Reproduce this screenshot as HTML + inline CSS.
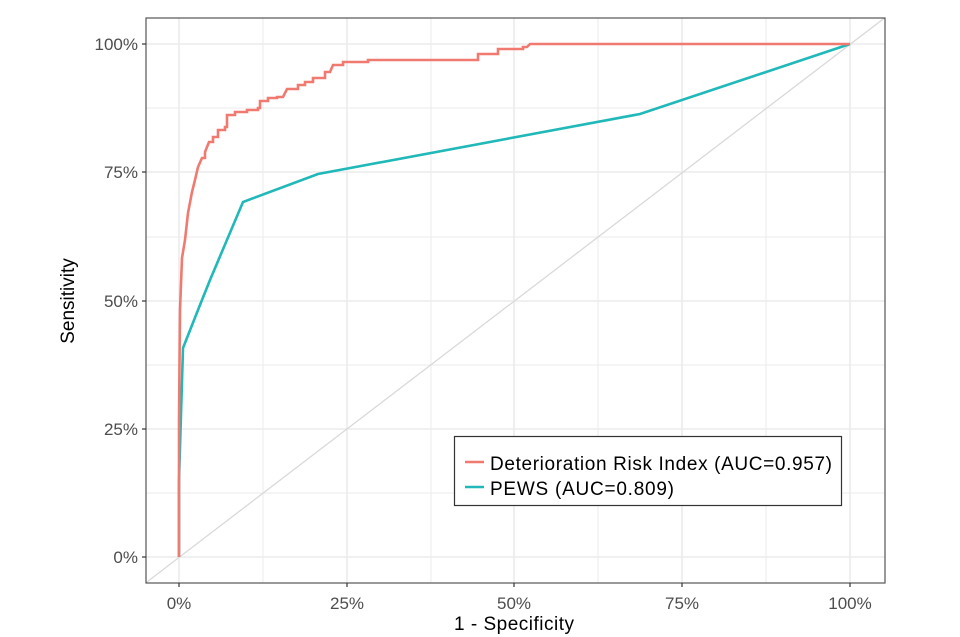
<!DOCTYPE html>
<html><head><style>body{margin:0;background:#fff}svg{display:block}</style></head><body>
<svg width="960" height="637" xmlns="http://www.w3.org/2000/svg" font-family="Liberation Sans, sans-serif">
<defs><clipPath id="c"><rect x="146" y="18" width="739" height="565"/></clipPath></defs>
<g stroke="#ebebeb" stroke-width="1">
<line x1="146" x2="885" y1="493" y2="493"/><line x1="146" x2="885" y1="365" y2="365"/><line x1="146" x2="885" y1="237" y2="237"/><line x1="146" x2="885" y1="108" y2="108"/>
<line y1="18" y2="583" x1="263" x2="263"/><line y1="18" y2="583" x1="431" x2="431"/><line y1="18" y2="583" x1="598" x2="598"/><line y1="18" y2="583" x1="766" x2="766"/>
</g>
<g stroke="#ebebeb" stroke-width="1.6">
<line x1="146" x2="885" y1="557" y2="557"/><line x1="146" x2="885" y1="429" y2="429"/><line x1="146" x2="885" y1="301" y2="301"/><line x1="146" x2="885" y1="172" y2="172"/><line x1="146" x2="885" y1="44" y2="44"/>
<line y1="18" y2="583" x1="179" x2="179"/><line y1="18" y2="583" x1="347" x2="347"/><line y1="18" y2="583" x1="514" x2="514"/><line y1="18" y2="583" x1="682" x2="682"/><line y1="18" y2="583" x1="850" x2="850"/>
</g>
<g clip-path="url(#c)">
<line x1="139" y1="588" x2="895" y2="10" stroke="#d9d9d9" stroke-width="1.3"/>
<polyline fill="none" stroke="#20b8b8" stroke-width="2.6" points="179,557 179,480 183,348 198,310 210,280 243,202 318,174 640,114 850,44"/>
<polyline fill="none" stroke="#f07a70" stroke-width="2.6" points="179,557 179,420 180,310 182,258 185,240 188,213 192,192 195,180 198,167 202,158 205,158 205,152 209,142 213,142 213,137 218,137 218,130 225,130 225,127 227,127 227,115 235,115 235,112 247,112 247,110 258,110 258,108 260,108 260,101 268,101 268,98 277,98 277,97 283,97 287,89 298,89 298,85 305,85 305,82 313,82 313,78 325,78 325,72 330,72 333,65 343,65 343,62 368,62 368,60 478,60 478,54 498,54 498,49 523,49 523,47 527,47 530,44 850,44"/>
</g>
<rect x="146" y="18" width="739" height="565" fill="none" stroke="#555" stroke-width="1.2"/>
<g stroke="#333" stroke-width="1.2">
<line x1="142" x2="146" y1="557" y2="557"/><line x1="142" x2="146" y1="429" y2="429"/><line x1="142" x2="146" y1="301" y2="301"/><line x1="142" x2="146" y1="172" y2="172"/><line x1="142" x2="146" y1="44" y2="44"/>
<line y1="583" y2="587" x1="179" x2="179"/><line y1="583" y2="587" x1="347" x2="347"/><line y1="583" y2="587" x1="514" x2="514"/><line y1="583" y2="587" x1="682" x2="682"/><line y1="583" y2="587" x1="850" x2="850"/>
</g>
<g fill="#4d4d4d" font-size="17" text-anchor="end">
<text x="138" y="563">0%</text><text x="138" y="435">25%</text><text x="138" y="307">50%</text><text x="138" y="178">75%</text><text x="138" y="50">100%</text>
</g>
<g fill="#4d4d4d" font-size="17" text-anchor="middle">
<text x="179" y="609">0%</text><text x="347" y="609">25%</text><text x="514" y="609">50%</text><text x="682" y="609">75%</text><text x="850" y="609">100%</text>
</g>
<text x="514" y="630" font-size="19" text-anchor="middle" fill="#000" textLength="120">1 - Specificity</text>
<text transform="translate(74,301) rotate(-90)" font-size="19" text-anchor="middle" fill="#000">Sensitivity</text>
<rect x="454.5" y="436.5" width="387" height="69" fill="#fff" stroke="#333" stroke-width="1.2"/>
<line x1="465" x2="484" y1="462" y2="462" stroke="#f07a70" stroke-width="2.6"/>
<line x1="465" x2="484" y1="487" y2="487" stroke="#20b8b8" stroke-width="2.6"/>
<text x="490" y="470" font-size="19" fill="#000" textLength="342">Deterioration Risk Index (AUC=0.957)</text>
<text x="490" y="495" font-size="19" fill="#000" textLength="184">PEWS (AUC=0.809)</text>
</svg>
</body></html>
